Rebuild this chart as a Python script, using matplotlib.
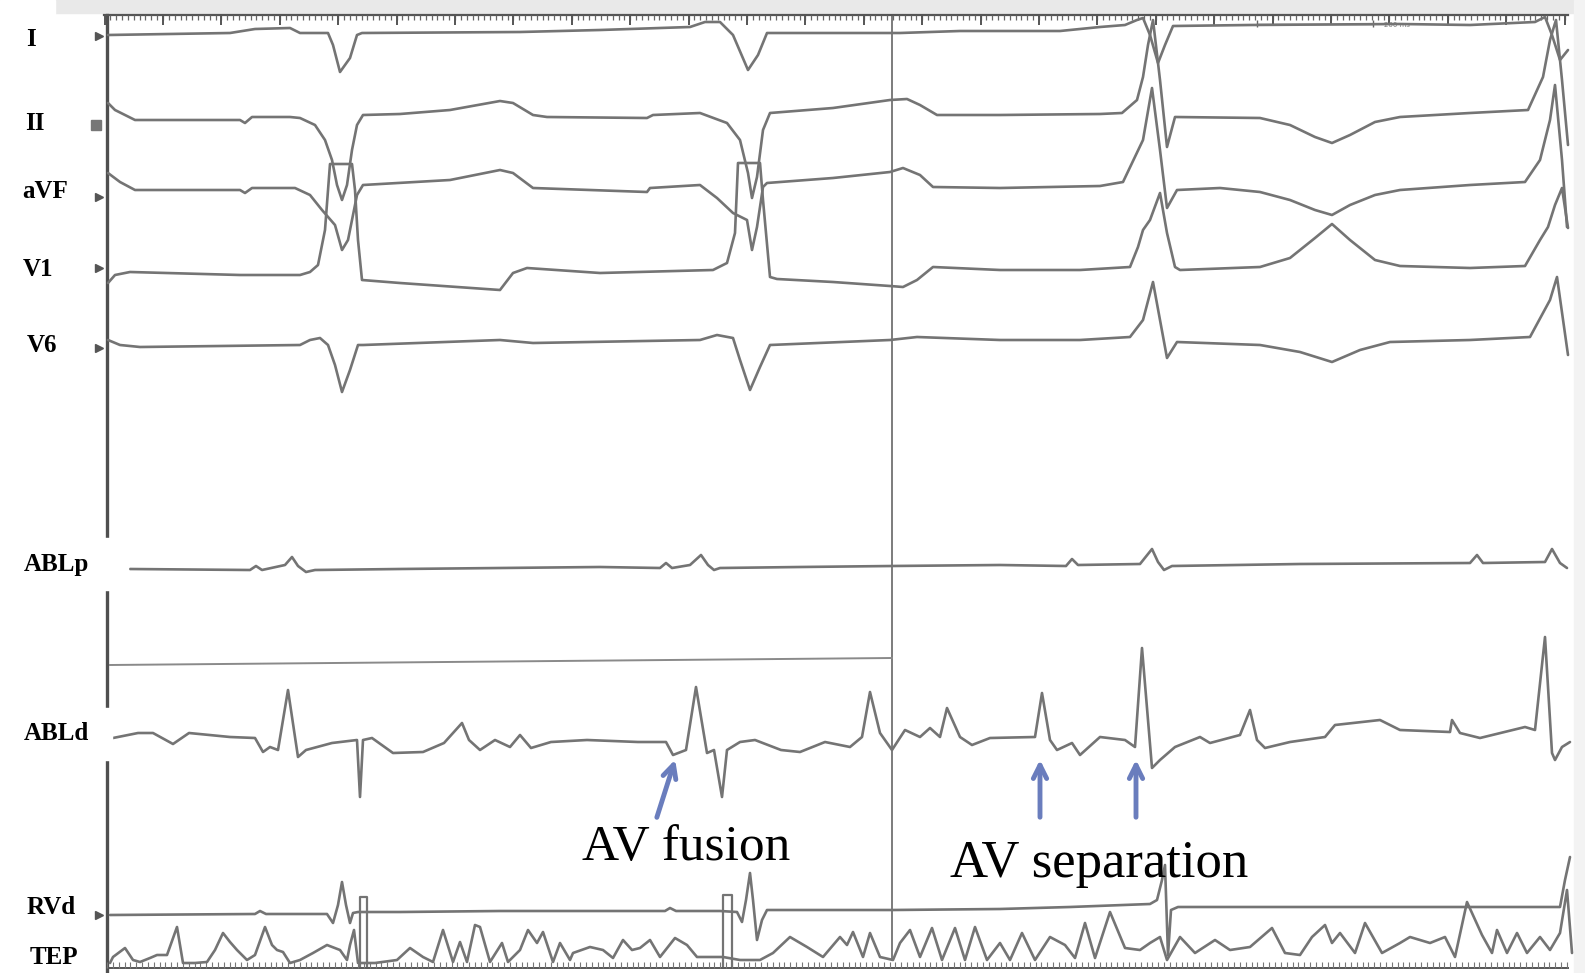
import numpy as np
from matplotlib import pyplot as plt
from matplotlib.patches import Rectangle

# sweep coordinates (screen units, x = time, y = deflection, y grows downward)

lead_I_x = [108, 230, 255, 290, 300, 328, 333, 340, 350, 357, 362, 520, 600, 690, 705, 720, 733, 748, 758, 767,
            900, 960, 1060, 1100, 1125, 1137, 1143, 1150, 1158, 1165, 1173, 1250, 1400, 1470, 1535, 1545, 1552, 1560, 1568]
lead_I_y = [35, 33, 29, 28, 33, 33, 45, 72, 58, 35, 33, 32, 30, 27, 22, 22, 35, 70, 55, 33,
            33, 31, 31, 27, 25, 20, 18, 35, 63, 45, 26, 25, 24, 25, 22, 17, 35, 60, 50]

lead_II_x = [108, 115, 135, 240, 245, 252, 290, 300, 315, 325, 332, 337, 342, 347, 352, 357, 363, 400, 450, 500,
             513, 533, 547, 647, 653, 700, 727, 740, 748, 752, 757, 763, 770, 833, 890, 907, 920, 937,
             1000, 1100, 1122, 1137, 1143, 1148, 1153, 1160, 1167, 1175, 1260, 1290, 1315, 1332, 1350, 1375, 1400,
             1470, 1528, 1543, 1550, 1556, 1562, 1568]
lead_II_y = [103, 110, 120, 120, 123, 117, 117, 118, 125, 140, 160, 185, 200, 185, 150, 125, 115, 114, 110, 101,
             103, 115, 117, 118, 115, 113, 123, 140, 173, 198, 177, 130, 113, 108, 100, 99, 105, 115,
             115, 114, 113, 100, 77, 45, 20, 80, 147, 117, 118, 125, 137, 143, 135, 122, 117,
             113, 110, 77, 40, 20, 80, 145]

lead_aVF_x = [108, 120, 135, 240, 245, 252, 295, 310, 322, 335, 342, 348, 352, 357, 363, 450, 500,
              513, 533, 647, 650, 700, 717, 733, 747, 752, 757, 763, 767, 833, 890, 903, 920, 933,
              1000, 1100, 1123, 1143, 1152, 1160, 1167, 1177, 1220, 1260, 1290, 1315, 1332, 1350, 1375, 1400,
              1470, 1525, 1540, 1550, 1555, 1562, 1567]
lead_aVF_y = [173, 182, 190, 190, 193, 188, 188, 195, 210, 225, 250, 240, 220, 195, 185, 180, 170,
              173, 188, 192, 188, 185, 198, 213, 220, 250, 227, 187, 183, 178, 172, 168, 175, 187,
              188, 186, 182, 140, 88, 150, 208, 190, 188, 192, 200, 210, 215, 205, 195, 190,
              185, 182, 160, 120, 85, 160, 227]

lead_V1_x = [108, 115, 130, 240, 300, 310, 318, 325, 330, 352, 355, 358, 362, 400, 500,
             513, 527, 600, 713, 727, 735, 738, 760, 763, 770, 777, 833, 890, 903, 917, 933,
             1000, 1080, 1130, 1138, 1143, 1150, 1160, 1167, 1175, 1180, 1260, 1290, 1315, 1332, 1350, 1375, 1400,
             1470, 1525, 1540, 1548, 1555, 1562, 1568]
lead_V1_y = [283, 275, 272, 275, 275, 272, 265, 230, 164, 164, 190, 240, 280, 283, 290,
             273, 268, 273, 270, 263, 233, 163, 163, 200, 277, 279, 282, 286, 287, 280, 267,
             270, 270, 267, 247, 230, 220, 193, 233, 267, 270, 267, 258, 238, 224, 240, 260, 266,
             268, 266, 240, 227, 205, 188, 228]

lead_V6_x = [108, 120, 140, 300, 310, 320, 328, 335, 342, 350, 358, 363, 500,
             533, 700, 717, 733, 740, 750, 760, 770, 890, 917,
             1000, 1080, 1130, 1143, 1153, 1167, 1177, 1260, 1300, 1332, 1360, 1390,
             1470, 1530, 1550, 1557, 1568]
lead_V6_y = [340, 345, 347, 345, 340, 338, 345, 365, 392, 370, 345, 345, 340,
             343, 340, 335, 338, 360, 390, 367, 345, 340, 337,
             340, 340, 337, 320, 282, 358, 342, 345, 352, 362, 350, 342,
             340, 337, 300, 277, 355]

abl_p_x = [130, 250, 256, 262, 285, 292, 298, 306, 315, 400, 500, 600, 660, 666, 672, 690, 701, 708, 714, 720,
           800, 892, 1000, 1066, 1072, 1078, 1140, 1152, 1158, 1164, 1172, 1300, 1470, 1477, 1483, 1545, 1552,
           1560, 1567]
abl_p_y = [569, 570, 566, 570, 565, 557, 566, 572, 570, 569, 568, 567, 568, 563, 568, 565, 555, 565, 570, 568,
           567, 566, 565, 566, 559, 565, 564, 549, 562, 570, 566, 564, 563, 555, 563, 562, 549,
           563, 568]

abl_d_x = [113, 138, 153, 173, 189, 230, 255, 263, 270, 278, 288, 295, 298, 306, 332, 357, 360, 363, 372,
           393, 423, 444, 462, 469, 480, 495, 510, 520, 531, 551, 587, 638, 666, 673, 686, 696, 707, 714,
           722, 727, 740, 755, 781, 800, 825, 850, 862, 870, 880, 892, 905, 920, 930, 940, 947, 960, 972,
           990, 1035, 1042, 1050, 1057, 1072, 1080, 1100, 1125, 1135, 1142, 1152, 1160, 1175, 1200, 1210,
           1240, 1250, 1257, 1265, 1290, 1325, 1335, 1380, 1400, 1450, 1452, 1460, 1480, 1525, 1535, 1545,
           1552, 1555, 1562, 1570]
abl_d_y = [738, 733, 733, 744, 733, 737, 738, 752, 747, 750, 690, 737, 757, 750, 743, 740, 797, 740, 738,
           753, 752, 743, 723, 740, 750, 740, 747, 735, 748, 742, 740, 742, 742, 755, 750, 687, 753, 750,
           797, 750, 742, 740, 750, 752, 742, 747, 737, 692, 733, 750, 730, 737, 728, 737, 708, 737, 745,
           738, 737, 693, 740, 750, 743, 755, 737, 740, 747, 648, 768, 760, 747, 737, 743,
           735, 710, 740, 748, 742, 737, 725, 720, 730, 732, 720, 733, 738, 727, 730, 637,
           753, 760, 747, 742]

rv_d_x = [110, 255, 260, 266, 327, 333, 338, 342, 346, 350, 353, 358, 400, 500, 600, 665, 670, 676, 720,
          737, 742, 746, 750, 753, 757, 762, 767, 893, 1000, 1070, 1150, 1157, 1162, 1165, 1168, 1171,
          1178, 1300, 1470, 1560, 1565, 1570]
rv_d_y = [915, 914, 911, 914, 914, 923, 905, 882, 905, 923, 913, 912, 912, 911, 911, 911, 908, 911, 911,
          912, 922, 900, 873, 900, 940, 920, 910, 910, 909, 907, 904, 900, 880, 865, 955, 910,
          907, 907, 907, 907, 880, 857]

tep_x = [110, 113, 125, 133, 140, 150, 157, 167, 177, 183, 195, 207, 215, 223, 230, 237, 247, 255, 265, 272,
         277, 283, 290, 300, 313, 327, 340, 347, 350, 354, 358, 375, 397, 410, 423, 433, 443, 453, 460, 467,
         475, 480, 490, 502, 508, 520, 528, 537, 543, 553, 560, 570, 573, 590, 603, 613, 623, 632, 640, 650,
         660, 675, 687, 697, 710, 723, 740, 760, 773, 790, 807, 823, 840, 847, 853, 863, 870, 880, 893, 900,
         910, 920, 932, 942, 955, 965, 975, 987, 1000, 1010, 1022, 1035, 1050, 1065, 1075, 1085, 1095, 1110,
         1125, 1140, 1150, 1160, 1167, 1180, 1195, 1215, 1230, 1250, 1272, 1285, 1300, 1312, 1325, 1332, 1340,
         1355, 1365, 1382, 1400, 1410, 1430, 1445, 1455, 1467, 1482, 1492, 1497, 1507, 1517, 1527, 1540, 1550,
         1560, 1567, 1572]
tep_y = [963, 957, 948, 960, 962, 958, 955, 955, 927, 963, 963, 962, 950, 933, 942, 950, 960, 955, 927, 945,
         950, 952, 963, 960, 953, 945, 950, 960, 945, 930, 963, 963, 960, 948, 957, 962, 930, 962, 942, 962,
         925, 927, 962, 943, 962, 950, 930, 943, 932, 962, 943, 960, 953, 947, 950, 958, 940, 950, 948, 940,
         957, 938, 945, 957, 957, 957, 960, 960, 953, 937, 947, 957, 937, 945, 932, 957, 933, 957, 960, 943,
         930, 957, 928, 960, 928, 960, 927, 960, 943, 960, 933, 960, 937, 945, 958, 923, 958, 912,
         948, 950, 943, 937, 960, 937, 953, 940, 950, 947, 928, 953, 955, 937, 925, 943, 933,
         953, 923, 953, 943, 937, 943, 937, 957, 902, 935, 953, 930, 953, 933, 953, 937, 950,
         933, 890, 953]

# pacing artifacts (left, right, top of the box)
pace_left = [360, 723]
pace_right = [367, 732]
pace_top = [897, 895]

labels = ['I', 'II', 'aVF', 'V1', 'V6', 'ABLp', 'ABLd', 'RVd', 'TEP']
label_x = [31, 35, 45, 38, 42, 56, 56, 51, 54]
label_y = [40, 124, 191, 270, 345, 565, 733, 908, 957]

marker_y = [36, 197, 268, 348, 915]

ARROW = '#6a7dbd'
TRACE = '#747474'

fig = plt.figure(figsize=(15.85, 9.73), dpi=100)
ax = fig.add_axes([0, 0, 1, 1])
ax.set_xlim(0, 1585)
ax.set_ylim(973, 0)
ax.axis('off')

# light grey margins of the scanned strip
ax.add_patch(Rectangle((0, 0), 1585, 13, color='#e9e9e9', zorder=0))
ax.add_patch(Rectangle((1574, 0), 11, 973, color='#f3f3f3', zorder=0))

# top time ruler
ax.plot([104, 1568], [15, 15], color='#555555', lw=1.6, zorder=3)
minor = np.arange(104.6, 1568, 5.84)
major = np.arange(104.6, 1568, 58.4)
ax.vlines(minor, 15, 20, color='#666666', lw=0.9, zorder=3)
ax.vlines(major, 15, 25, color='#555555', lw=1.4, zorder=3)
ax.plot([1257, 1373], [24, 24], color='#666666', lw=1.0)
ax.vlines([1257, 1373], 20, 27, color='#666666', lw=1.0)
ax.text(1397, 25, '200 ms', fontsize=5, color='#777777', ha='center', va='center')

# bottom ruler
bminor = np.arange(107, 1568, 5.84)
ax.plot([107, 1568], [968, 968], color='#555555', lw=1.4, zorder=3)
ax.vlines(bminor, 962, 968, color='#777777', lw=0.8, zorder=3)

# frame lines
ax.plot([107, 107], [15, 973], color='#4f4f4f', lw=2.4, zorder=2)
ax.plot([892, 892], [15, 960], color='#666666', lw=1.2, zorder=2)
ax.plot([110, 892], [665, 658], color='#8a8a8a', lw=1.4, zorder=2)

# channel markers on the left
ax.plot([99] * len(marker_y), marker_y, '>', color='#555555', ms=6, zorder=3)
ax.plot([96], [125], 's', color='#777777', ms=7, zorder=3)

# traces
for xs, ys in [(lead_I_x, lead_I_y), (lead_II_x, lead_II_y), (lead_aVF_x, lead_aVF_y),
               (lead_V1_x, lead_V1_y), (lead_V6_x, lead_V6_y), (abl_p_x, abl_p_y),
               (abl_d_x, abl_d_y), (rv_d_x, rv_d_y), (tep_x, tep_y)]:
    ax.plot(xs, ys, color=TRACE, lw=1.9, solid_joinstyle='round', solid_capstyle='round', zorder=4)

for l, r, t in zip(pace_left, pace_right, pace_top):
    ax.plot([l, l, r, r], [966, t, t, 966], color=TRACE, lw=1.6, zorder=4)

# white label boxes
ax.add_patch(Rectangle((0, 0), 55, 30, color='white', zorder=5))
ax.add_patch(Rectangle((0, 538), 128, 52, color='white', zorder=5))
ax.add_patch(Rectangle((0, 708), 112, 52, color='white', zorder=5))

for name, x, y in zip(labels, label_x, label_y):
    ax.text(x, y, name, fontsize=18, fontweight='bold', family='Liberation Serif',
            ha='center', va='center', color='black', zorder=6)

# annotations
ax.text(582, 860, 'AV fusion', fontsize=37, family='Liberation Serif', ha='left', va='baseline', zorder=6)
ax.text(950, 877, 'AV separation', fontsize=38, family='Liberation Serif', ha='left', va='baseline', zorder=6)

arrow_props = dict(arrowstyle='->', color=ARROW, lw=3.5, mutation_scale=24)
ax.annotate('', xy=(676, 757), xytext=(656, 820), arrowprops=arrow_props, zorder=6)
ax.annotate('', xy=(1040, 757), xytext=(1040, 820), arrowprops=arrow_props, zorder=6)
ax.annotate('', xy=(1136, 757), xytext=(1136, 820), arrowprops=arrow_props, zorder=6)

plt.savefig('out.png', dpi=100)
